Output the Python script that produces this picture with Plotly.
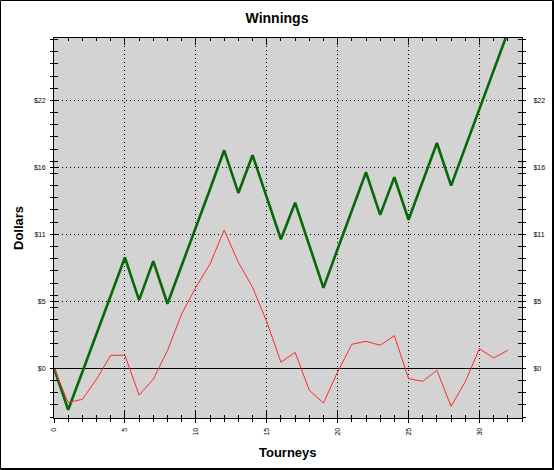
import plotly.graph_objects as go

# ---- data ----
tourneys = list(range(33))
cumulative = [0, -3.4, -0.3, 2.8, 5.9, 9.1, 5.6, 8.8, 5.3, 8.4, 11.6, 14.7, 17.9, 14.4,
              17.5, 14.0, 10.6, 13.6, 10.1, 6.6, 9.8, 12.9, 16.1, 12.6, 15.7, 12.2,
              15.3, 18.5, 15.0, 18.2, 21.3, 24.5, 27.6]
trend = [0, -2.8, -2.55, -0.9, 1.07, 1.07, -2.2, -0.9, 1.45, 4.46, 6.65, 8.56, 11.35,
         8.7, 6.65, 3.83, 0.5, 1.31, -1.8, -2.85, -0.3, 1.97, 2.22, 1.89, 2.68, -0.85,
         -1.07, -0.16, -3.12, -1.1, 1.61, 0.85, 1.48]
y_tick_vals = [0, 5.5, 11, 16.5, 22]
y_tick_text = ["$0", "$5", "$11", "$16", "$22"]
x_tick_vals = [0, 5, 10, 15, 20, 25, 30]
x_tick_text = ["0", "5", "10", "15", "20", "25", "30"]
x_minor = list(range(0, 34))
y_minor = list(range(-4, 28))

W, H = 554, 470
L, R, T, B = 54, 32, 38, 52
PW, PH = W - L - R, H - T - B

def px(x):
    return (x - L) / PW

def py(y):
    return (H - B - y) / PH

XR = [0, 33]
YR = [-4.08, 27.12]
tickfont = dict(family="Liberation Sans", size=7, color="black")

fig = go.Figure()
fig.add_trace(go.Scatter(x=tourneys, y=cumulative, mode="lines",
                         line=dict(color="#086808", width=2.6), showlegend=False))
fig.add_trace(go.Scatter(x=tourneys, y=trend, mode="lines",
                         line=dict(color="#ff2a2a", width=1), showlegend=False))

fig.update_layout(
    width=W, height=H,
    margin=dict(l=L, r=R, t=T, b=B, autoexpand=False),
    paper_bgcolor="white", plot_bgcolor="#d3d3d3",
    title=dict(text="<b>Winnings</b>", x=0.5, xref="container", xanchor="center",
               y=1 - 18.5 / H, yref="container", yanchor="middle",
               font=dict(family="Liberation Sans", size=14, color="black")),
    xaxis=dict(range=XR, showline=True, linecolor="black", linewidth=1, mirror="ticks",
               tickmode="array", tickvals=x_tick_vals, ticktext=x_tick_text,
               tickangle=-90, tickfont=tickfont, ticks="inside", ticklen=7,
               tickcolor="black", ticklabelstandoff=6,
               showgrid=True, gridcolor="black", gridwidth=1, griddash="1px,3px",
               zeroline=False,
               minor=dict(tickmode="array", tickvals=x_minor, ticks="inside",
                          ticklen=3, tickcolor="black", showgrid=False)),
    xaxis2=dict(range=XR, overlaying="x", side="bottom", showline=False,
                tickmode="array", tickvals=x_tick_vals, ticks="outside", ticklen=4,
                tickcolor="black", showticklabels=False, showgrid=False, zeroline=False,
                minor=dict(tickmode="array", tickvals=x_minor, ticks="outside",
                           ticklen=3, tickcolor="black", showgrid=False)),
    yaxis=dict(range=YR, showline=True, linecolor="black", linewidth=1, mirror="ticks",
               tickmode="array", tickvals=y_tick_vals, ticktext=y_tick_text,
               tickfont=tickfont, ticks="inside", ticklen=4, tickcolor="black",
               ticklabelstandoff=6,
               showgrid=True, gridcolor="black", gridwidth=1, griddash="1px,3px",
               zeroline=True, zerolinecolor="black", zerolinewidth=1,
               minor=dict(tickmode="array", tickvals=y_minor, ticks="inside",
                          ticklen=4, tickcolor="black", showgrid=False)),
    yaxis2=dict(range=YR, overlaying="y", side="right", showline=False,
                tickmode="array", tickvals=y_tick_vals, ticktext=y_tick_text,
                tickfont=tickfont, ticks="outside", ticklen=3, tickcolor="black",
                ticklabelstandoff=6, showgrid=False, zeroline=False,
                minor=dict(tickmode="array", tickvals=y_minor, ticks="outside",
                           ticklen=3, tickcolor="black", showgrid=False)),
    yaxis3=dict(range=YR, overlaying="y", side="left", showline=False,
                tickmode="array", tickvals=y_tick_vals, ticks="outside", ticklen=3,
                tickcolor="black", showticklabels=False, showgrid=False, zeroline=False,
                minor=dict(tickmode="array", tickvals=y_minor, ticks="outside",
                           ticklen=3, tickcolor="black", showgrid=False)),
    annotations=[
        dict(text="<b>Tourneys</b>", xref="paper", yref="paper", x=0.5, y=py(452.5),
             xanchor="center", yanchor="middle", showarrow=False,
             font=dict(family="Liberation Sans", size=13, color="black")),
        dict(text="<b>Dollars</b>", xref="paper", yref="paper", x=px(18), y=0.5,
             xanchor="center", yanchor="middle", showarrow=False, textangle=-90,
             font=dict(family="Liberation Sans", size=13, color="black")),
    ],
    shapes=[
        dict(type="rect", xref="paper", yref="paper", x0=px(0.5), x1=px(552.5),
             y0=py(0.5), y1=py(468.5), line=dict(color="black", width=1), layer="above"),
        dict(type="line", xref="paper", yref="paper", x0=px(553.5), x1=px(553.5),
             y0=py(0), y1=py(470), line=dict(color="black", width=1), layer="above"),
        dict(type="line", xref="paper", yref="paper", x0=px(0), x1=px(554),
             y0=py(469.5), y1=py(469.5), line=dict(color="black", width=1), layer="above"),
    ],
)

# invisible traces to anchor the overlay axes
fig.add_trace(go.Scatter(x=[None], y=[None], xaxis="x2", yaxis="y2", showlegend=False,
                         hoverinfo="skip"))
fig.add_trace(go.Scatter(x=[None], y=[None], xaxis="x", yaxis="y3", showlegend=False,
                         hoverinfo="skip"))

fig.write_html("out.html", config={"displayModeBar": False},
               post_script="document.body.style.margin='0';document.body.style.overflow='hidden';")
